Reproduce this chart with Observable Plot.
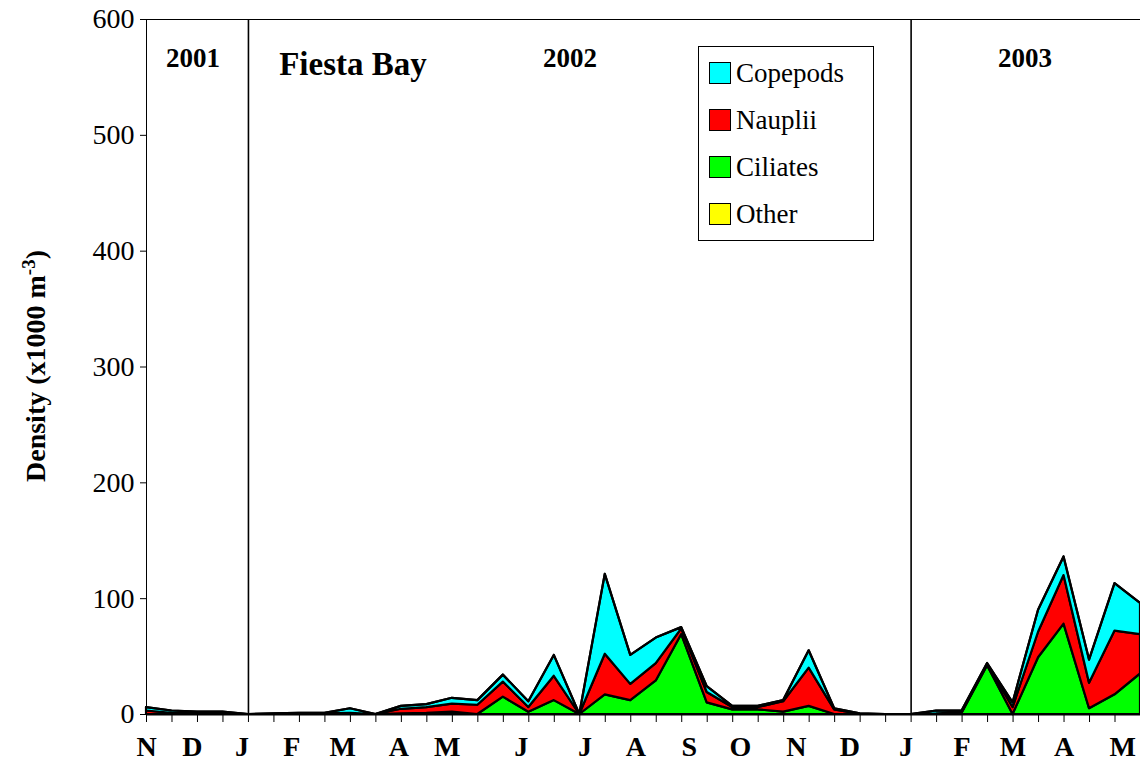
<!DOCTYPE html>
<html><head><meta charset="utf-8">
<script src="https://cdn.jsdelivr.net/npm/d3@7"></script>
<script src="https://cdn.jsdelivr.net/npm/@observablehq/plot@0.6"></script>
<style>
body{margin:0;background:#fff;font-family:"Liberation Serif","Times New Roman",serif;}
#wrap{position:relative;width:1140px;height:769px;}
.legend{position:absolute;left:698px;top:46px;width:174px;height:193px;border:1px solid #000;background:#fff;font-size:27px;}
.legend div{position:absolute;left:10px;height:30px;line-height:30px;white-space:nowrap;}
.legend span{display:inline-block;width:20px;height:20px;border:1px solid #000;vertical-align:-2px;margin-right:5px;}
</style></head><body><div id="wrap"></div>
<script>
const ciliates = [0,0,0,0,0,0,0,0,0,0,0.5,1,2,0,15,2,12,0,17,12,29,69,10,4,4,2,7,0,0,0,0,0,1,42,0,49,78,5,17,35];
const nauplii  = [3,1,0.5,0.5,0,0,0.5,0.5,1,0,4,5,7,8,13,4,21,0,35,14,15,5,9,2,2,9,33,4,0,0,0,0.5,0.5,1,6,22,42,22,55,34];
const copepods = [3,2,1.5,1.5,0,0.5,0.5,0.5,4,0,2.5,2.5,5,4,6,5,18,0,69,25,22,1,5,1,1,1,15,1,0.5,0,0,2.5,1.5,1,4,19,16,20,41,27];
const other    = new Array(40).fill(0);
const monthLabels = ["N","D","J","F","M","A","M","J","J","A","S","O","N","D","J","F","M","A","M"];
const monthPos = [0,1.8,3.75,5.7,7.7,9.9,11.8,14.7,17.2,19.2,21.3,23.3,25.5,27.6,29.8,32,34,36,38.3];
const yearLines = [4,30];
const series = [["Ciliates",ciliates,"#00ff00"],["Nauplii",nauplii,"#ff0000"],["Copepods",copepods,"#00ffff"],["Other",other,"#ffff00"]];
const data = series.flatMap(([name,vals],k)=>vals.map((v,i)=>({i,v,name,k})));
const chart = Plot.plot({
  width:1140,height:769,marginLeft:146,marginRight:0,marginTop:19,marginBottom:55,
  style:{fontFamily:"Liberation Serif, serif",fontSize:"28px",color:"#000"},
  x:{domain:[0,39],axis:null},
  y:{domain:[0,600],ticks:[0,100,200,300,400,500,600],tickSize:6,label:null,tickPadding:6},
  color:{domain:series.map(s=>s[0]),range:series.map(s=>s[2])},
  marks:[
    Plot.areaY(data,Plot.stackY({x:"i",y:"v",z:"name",fill:"name",order:series.map(s=>s[0]),stroke:"#000",strokeWidth:2.2,curve:"linear"})),
    Plot.ruleX(yearLines,{stroke:"#000",strokeWidth:1.6}),
    Plot.ruleX([39],{stroke:"#000",strokeWidth:1}),
    Plot.ruleY([600],{stroke:"#000",strokeWidth:1}),
    Plot.ruleY([0],{stroke:"#000",strokeWidth:2}),
    Plot.ruleX([0],{stroke:"#000",strokeWidth:1}),
    Plot.axisX({ticks:d3.range(40),tickSize:8,tickFormat:()=>"",label:null,anchor:"bottom"}),
    Plot.axisX(monthPos,{tickSize:0,tickFormat:(d,j)=>monthLabels[j],fontWeight:"bold",fontSize:28,tickPadding:22,anchor:"bottom",label:null})
  ]
});
document.getElementById("wrap").appendChild(chart);
const svg=d3.select(chart);
const ann=[["2001",193,67,27],["Fiesta Bay",353,75,33],["2002",570,67,27],["2003",1025,67,27]];
ann.forEach(([t,x,y,s])=>svg.append("text").attr("x",x).attr("y",y).attr("text-anchor","middle").attr("font-weight","bold").attr("font-size",s).attr("font-family","Liberation Serif, serif").text(t));
const yl=svg.append("text").attr("transform","translate(45,366) rotate(-90)").attr("text-anchor","middle").attr("font-weight","bold").attr("font-size",28).attr("font-family","Liberation Serif, serif");
yl.append("tspan").text("Density (x1000 m");
yl.append("tspan").attr("dy",-10).attr("font-size",19).text("-3");
yl.append("tspan").attr("dy",10).text(")");
const lg=document.createElement("div");lg.className="legend";
[["Copepods","#00ffff"],["Nauplii","#ff0000"],["Ciliates","#00ff00"],["Other","#ffff00"]].forEach(([n,c],j)=>{
  const d=document.createElement("div");d.style.top=(11+j*47)+"px";d.innerHTML=`<span style="background:${c}"></span>${n}`;lg.appendChild(d);});
document.getElementById("wrap").appendChild(lg);
</script></body></html>
